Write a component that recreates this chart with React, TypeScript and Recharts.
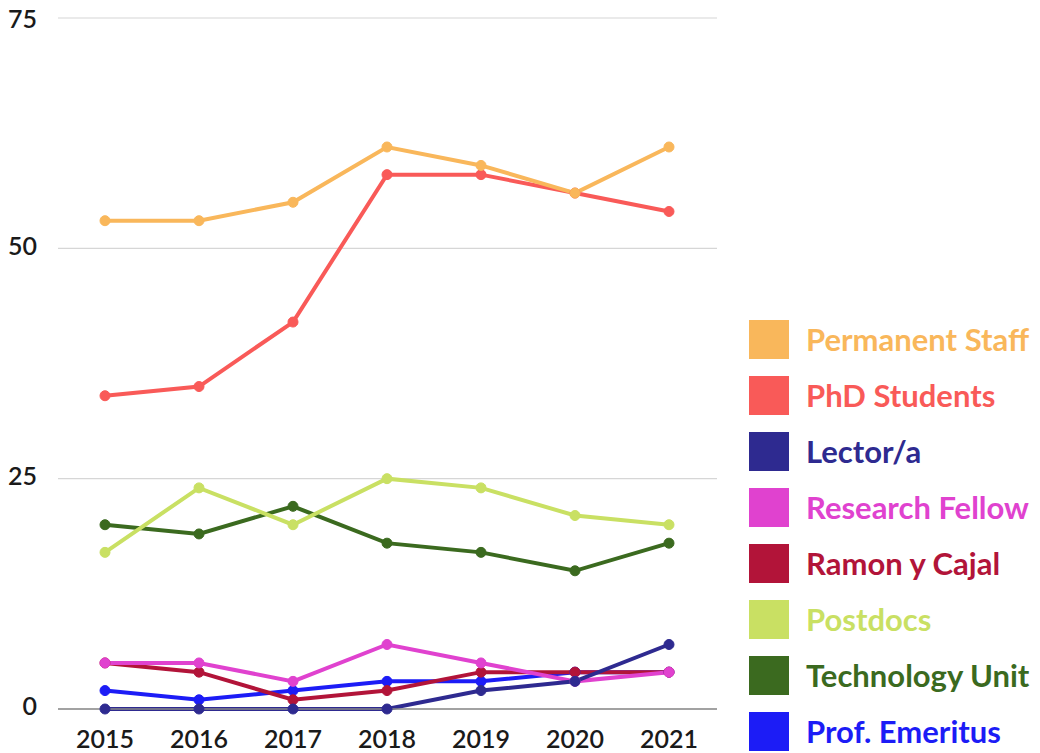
import { LineChart, Line, XAxis, YAxis, CartesianGrid, Legend } from 'recharts';

const years = ['2015', '2016', '2017', '2018', '2019', '2020', '2021'];
const yTicks = [0, 25, 50, 75];

const permanentStaff = [53, 53, 55, 61, 59, 56, 61];
const phdStudents = [34, 35, 42, 58, 58, 56, 54];
const lector = [0, 0, 0, 0, 2, 3, 7];
const researchFellow = [5, 5, 3, 7, 5, 3, 4];
const ramonYCajal = [5, 4, 1, 2, 4, 4, 4];
const postdocs = [17, 24, 20, 25, 24, 21, 20];
const technologyUnit = [20, 19, 22, 18, 17, 15, 18];
const profEmeritus = [2, 1, 2, 3, 3, 4, 4];

const series = [
  { key: 'permanent', name: 'Permanent Staff', color: '#F9B75B', values: permanentStaff },
  { key: 'phd', name: 'PhD Students', color: '#F95A58', values: phdStudents },
  { key: 'lector', name: 'Lector/a', color: '#2E2A90', values: lector },
  { key: 'fellow', name: 'Research Fellow', color: '#E042CF', values: researchFellow },
  { key: 'ryc', name: 'Ramon y Cajal', color: '#B21439', values: ramonYCajal },
  { key: 'postdocs', name: 'Postdocs', color: '#C9E063', values: postdocs },
  { key: 'tech', name: 'Technology Unit', color: '#3B6A1F', values: technologyUnit },
  { key: 'emeritus', name: 'Prof. Emeritus', color: '#1C1CF6', values: profEmeritus },
];

const data = years.map((year, i) => {
  const row: Record<string, string | number> = { year };
  series.forEach((s) => {
    row[s.key] = s.values[i];
  });
  return row;
});

const FONT = 'Lato, "Open Sans", sans-serif';

function XTick({ x, y, payload }: any) {
  return (
    <text x={x} y={y + 25} textAnchor="middle" dominantBaseline="middle" fontSize={25} fontWeight={600} fill="#1a1a1a" fontFamily={FONT}>
      {payload.value}
    </text>
  );
}

function YTick({ y, payload }: any) {
  const shift = payload.value === 75 ? 4 : 0;
  return (
    <text x={37} y={y + shift} textAnchor="end" dominantBaseline="middle" fontSize={25} fontWeight={600} fill="#1a1a1a" fontFamily={FONT}>
      {payload.value}
    </text>
  );
}

function renderLegend() {
  return (
    <div style={{ fontFamily: FONT }}>
      {series.map((s) => (
        <div key={s.key} style={{ display: 'flex', alignItems: 'center', height: 56 }}>
          <div style={{ width: 40, height: 39, background: s.color, marginRight: 17, flexShrink: 0 }} />
          <span style={{ color: s.color, fontSize: 31, fontWeight: 700, whiteSpace: 'nowrap' }}>{s.name}</span>
        </div>
      ))}
    </div>
  );
}

export default function App() {
  return (
    <div style={{ position: 'absolute', left: 0, top: 0, background: '#fff' }}>
      <LineChart width={1040} height={753} data={data} margin={{ top: 18, right: 323, bottom: 0, left: 0 }}>
        <CartesianGrid vertical={false} stroke="#d6d6d6" strokeWidth={1.2} />
        <XAxis
          dataKey="year"
          padding={{ left: 47, right: 48 }}
          height={44}
          axisLine={{ stroke: '#8a8a8a', strokeWidth: 1.5 }}
          tickLine={false}
          tick={<XTick />}
          interval={0}
        />
        <YAxis
          width={58}
          domain={[0, 75]}
          ticks={yTicks}
          axisLine={false}
          tickLine={false}
          tick={<YTick />}
        />
        <Legend
          layout="vertical"
          align="center"
          verticalAlign="middle"
          content={renderLegend}
          wrapperStyle={{ left: 749, top: 311, width: 291 }}
        />
        {[...series].reverse().map((s) => (
          <Line
            key={s.key}
            dataKey={s.key}
            name={s.name}
            stroke={s.color}
            strokeWidth={4}
            dot={{ r: 5, fill: s.color, stroke: s.color, strokeWidth: 1 }}
            type="linear"
            isAnimationActive={false}
          />
        ))}
      </LineChart>
    </div>
  );
}
